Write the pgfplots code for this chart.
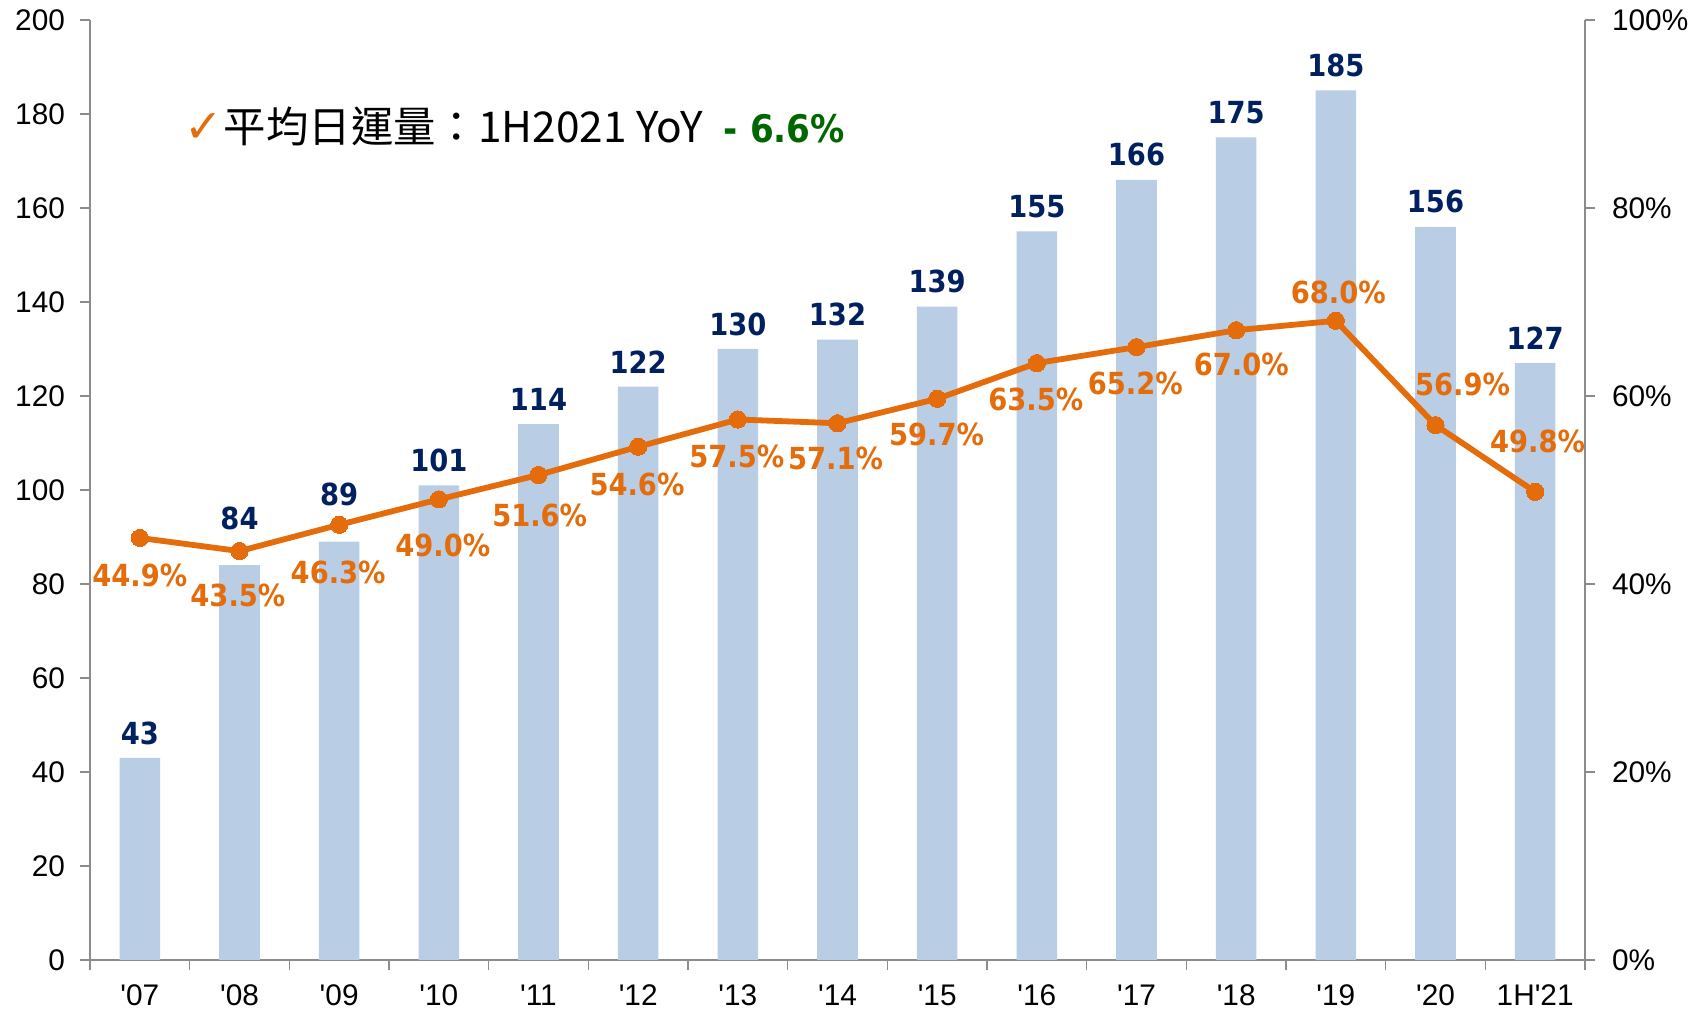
\documentclass[border=0pt]{standalone}
\usepackage{fontspec}
\usepackage{pgfplots}
\usepackage{pgfplotstable}
\pgfplotsset{compat=1.18}
\setmainfont{Liberation Sans}
\newfontfamily\tickfont{Liberation Sans}[Ligatures=TeXOff]
\newfontfamily\lblfont{DejaVu Sans Condensed Bold}
\newfontfamily\cjk{Noto Sans CJK TC}
\newfontfamily\symfont{DejaVu Sans}
\definecolor{barblue}{RGB}{185,205,229}
\definecolor{lineorange}{RGB}{228,108,10}
\definecolor{navy}{RGB}{0,32,96}
\definecolor{dgreen}{RGB}{0,102,0}
\definecolor{axgray}{RGB}{140,140,140}

\pgfplotstableread{
x y dy
0 43 6.5
1 84 17.4
2 89 17.9
3 101 6.5
4 114 6.5
5 122 6.5
6 130 6.5
7 132 6.5
8 139 6.5
9 155 6.5
10 166 6.5
11 175 6.5
12 185 6.5
13 156 6.5
14 127 6.5
}\bars

\pgfplotstableread{
x y dx dy
0 44.9 0 -18.9
1 43.5 -0.8 -22.3
2 46.3 -0.5 -23.8
3 49.0 2 -22.9
4 51.6 0.6 -20.4
5 54.6 -0.6 -18.9
6 57.5 -0.5 -18.4
7 57.1 -1 -17.5
8 59.7 -0.3 -17.9
9 63.5 -0.5 -18
10 65.2 -0.6 -18.4
11 67.0 2.6 -17.1
12 68.0 1.2 14
13 56.9 13.5 20.5
14 49.8 1.2 25.4
}\pcts

\begin{document}
\begin{tikzpicture}
\useasboundingbox (0,0) rectangle (849.5pt,506pt);
\begin{axis}[
  at={(45pt,26pt)}, anchor=south west,
  scale only axis, width=747.5pt, height=470pt,
  xmin=-0.5, xmax=14.5, ymin=0, ymax=200,
  axis x line*=bottom, axis y line*=left,
  axis line style={axgray, line width=0.8pt},
  xtick={0,...,14},
  xticklabels={'07,'08,'09,'10,'11,'12,'13,'14,'15,'16,'17,'18,'19,'20,1H'21},
  every major x tick/.append style={draw=none},
  minor xtick={-0.5,0.5,...,14.5},
  ytick={0,20,...,200},
  tick align=outside, major tick length=5pt, minor tick length=5pt,
  tick style={axgray, line width=0.8pt},
  ticklabel style={font=\tickfont\fontsize{14.9}{16}\selectfont, black},
  yticklabel style={xshift=-4pt},
  xticklabel style={yshift=-3.8pt},
  /pgf/number format/assume math mode=true,
  clip=false,
]
\addplot[ybar, bar width=20.3pt, fill=barblue, draw=none,
  visualization depends on={\thisrow{dy} \as \bdy},
  nodes near coords,
  every node near coord/.append style={font=\lblfont\fontsize{15.2}{16}\selectfont, text=navy, inner sep=0pt, anchor=south, yshift=\bdy pt}]
  table[x=x,y=y] {\bars};
\end{axis}
\begin{axis}[
  at={(45pt,26pt)}, anchor=south west,
  scale only axis, width=747.5pt, height=470pt,
  xmin=-0.5, xmax=14.5, ymin=0, ymax=100,
  axis x line=none, axis y line*=right,
  axis line style={axgray, line width=0.8pt},
  ytick={0,20,...,100},
  yticklabel={\pgfmathprintnumber{\tick}\%},
  tick align=outside, major tick length=5pt,
  tick style={axgray, line width=0.8pt},
  ticklabel style={font=\tickfont\fontsize{14.9}{16}\selectfont, black},
  yticklabel style={xshift=5pt},
  /pgf/number format/assume math mode=true,
  clip=false,
]
\addplot[lineorange, line width=2.9pt, line join=round,
  mark=*, mark size=4.3pt, mark options={fill=lineorange, draw=lineorange, line width=0pt},
  point meta=\thisrow{y},
  visualization depends on={\thisrow{dx} \as \dx},
  visualization depends on={\thisrow{dy} \as \dy},
  nodes near coords={\pgfmathprintnumber[fixed,fixed zerofill,precision=1]{\pgfplotspointmeta}\%},
  every node near coord/.append style={font=\lblfont\fontsize{15.2}{16}\selectfont, text=lineorange, inner sep=0pt, anchor=center, xshift=\dx pt, yshift=\dy pt}]
  table[x=x,y=y] {\pcts};
\end{axis}
\node[anchor=base west, inner sep=0pt] at (92pt,434.5pt)
  {{\symfont\fontsize{23}{26}\selectfont\color{lineorange}✓}\hspace{0.5pt}{\cjk\fontsize{21.2}{24}\selectfont 平均日運量：1H2021 YoY}\hspace{10.5pt}{\lblfont\fontsize{19}{22}\selectfont\color{dgreen}- 6.6\%}};
\end{tikzpicture}
\end{document}
